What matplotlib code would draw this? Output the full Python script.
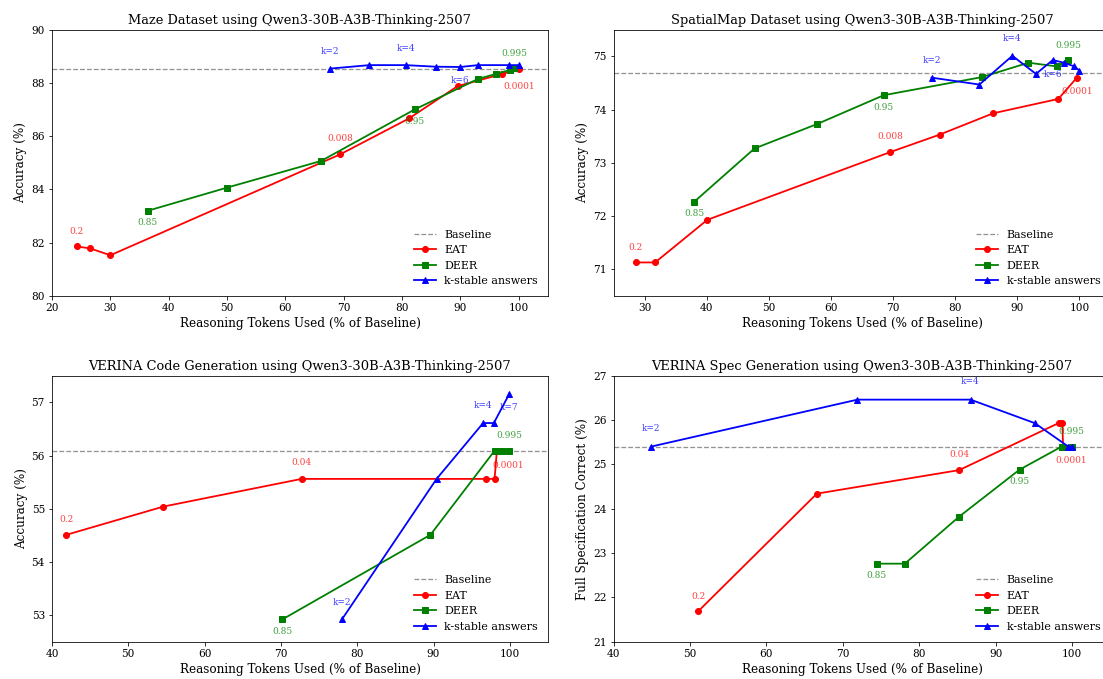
import matplotlib
matplotlib.use("Agg")
import matplotlib.pyplot as plt

plt.rcParams['font.family'] = ['DejaVu Serif']

# ---------------- data ----------------
maze_eat_x = [24.2, 26.5, 30.0, 69.4, 81.2, 89.5, 97.2, 100.0]
maze_eat_y = [81.86, 81.79, 81.53, 85.32, 86.67, 87.88, 88.34, 88.52]
maze_deer_x = [36.4, 50.0, 66.1, 82.2, 93.0, 96.1, 98.5, 99.2]
maze_deer_y = [83.20, 84.07, 85.07, 87.01, 88.15, 88.34, 88.49, 88.55]
maze_k_x = [67.7, 74.4, 80.6, 85.8, 90.0, 93.0, 98.3, 100.0]
maze_k_y = [88.54, 88.67, 88.67, 88.61, 88.60, 88.67, 88.67, 88.67]
maze_base = 88.53

spatial_eat_x = [28.6, 31.7, 40.1, 69.5, 77.5, 86.1, 96.6, 99.6]
spatial_eat_y = [71.13, 71.13, 71.93, 73.20, 73.53, 73.93, 74.20, 74.60]
spatial_deer_x = [38.0, 47.7, 57.8, 68.5, 84.3, 91.8, 96.4, 98.2]
spatial_deer_y = [72.27, 73.27, 73.73, 74.27, 74.61, 74.88, 74.81, 74.93]
spatial_k_x = [76.2, 83.9, 89.2, 93.0, 95.7, 97.5, 99.2, 100.0]
spatial_k_y = [74.60, 74.47, 75.01, 74.67, 74.93, 74.88, 74.81, 74.73]
spatial_base = 74.68

code_eat_x = [41.9, 54.6, 72.7, 96.9, 98.0, 98.3, 99.8]
code_eat_y = [54.51, 55.04, 55.56, 55.56, 55.56, 56.09, 56.09]
code_deer_x = [70.2, 89.6, 98.0, 99.0, 99.9]
code_deer_y = [52.92, 54.51, 56.09, 56.09, 56.09]
code_k_x = [78.0, 90.4, 96.5, 97.9, 99.9]
code_k_y = [52.92, 55.56, 56.61, 56.61, 57.15]
code_base = 56.09

spec_eat_x = [51.1, 66.6, 85.2, 98.2, 98.7, 98.8, 99.9]
spec_eat_y = [21.69, 24.34, 24.87, 25.93, 25.93, 25.40, 25.40]
spec_deer_x = [74.4, 78.1, 85.2, 93.1, 98.6, 99.9]
spec_deer_y = [22.76, 22.76, 23.82, 24.88, 25.40, 25.40]
spec_k_x = [44.9, 71.9, 86.7, 95.1, 99.5, 100.0]
spec_k_y = [25.40, 26.46, 26.46, 25.93, 25.40, 25.40]
spec_base = 25.40

titles = ["Maze Dataset using Qwen3-30B-A3B-Thinking-2507",
          "SpatialMap Dataset using Qwen3-30B-A3B-Thinking-2507",
          "VERINA Code Generation using Qwen3-30B-A3B-Thinking-2507",
          "VERINA Spec Generation using Qwen3-30B-A3B-Thinking-2507"]
ylabels = ["Accuracy (%)", "Accuracy (%)", "Accuracy (%)",
           "Full Specification Correct (%)"]
xlabel = "Reasoning Tokens Used (% of Baseline)"

# labels: (index, text, vertical offset in points)
maze_eat_labels = [(0, "0.2", 15), (3, "0.008", 16), (7, "0.0001", -17)]
maze_deer_labels = [(0, "0.85", -12), (3, "0.95", -12), (7, "0.995", 15)]
maze_k_labels = [(0, "k=2", 17), (2, "k=4", 17), (4, "k=6", -14)]

spatial_eat_labels = [(0, "0.2", 15), (3, "0.008", 16), (7, "0.0001", -14)]
spatial_deer_labels = [(0, "0.85", -12), (3, "0.95", -12), (7, "0.995", 15)]
spatial_k_labels = [(0, "k=2", 17), (2, "k=4", 17), (4, "k=6", -14)]

code_eat_labels = [(0, "0.2", 15), (2, "0.04", 16), (6, "0.0001", -15)]
code_deer_labels = [(0, "0.85", -12), (4, "0.995", 15)]
code_k_labels = [(0, "k=2", 17), (2, "k=4", 18), (4, "k=7", -13)]

spec_eat_labels = [(0, "0.2", 15), (2, "0.04", 16), (6, "0.0001", -14)]
spec_deer_labels = [(0, "0.85", -12), (3, "0.95", -12), (5, "0.995", 15)]
spec_k_labels = [(0, "k=2", 18), (2, "k=4", 18)]

panels = [
    dict(eat=(maze_eat_x, maze_eat_y), deer=(maze_deer_x, maze_deer_y),
         k=(maze_k_x, maze_k_y), base=maze_base,
         labs=(maze_eat_labels, maze_deer_labels, maze_k_labels),
         xlim=(20, 105), ylim=(80, 90), yticks=[80, 82, 84, 86, 88, 90]),
    dict(eat=(spatial_eat_x, spatial_eat_y), deer=(spatial_deer_x, spatial_deer_y),
         k=(spatial_k_x, spatial_k_y), base=spatial_base,
         labs=(spatial_eat_labels, spatial_deer_labels, spatial_k_labels),
         xlim=(25, 105), ylim=(70.5, 75.5), yticks=[71, 72, 73, 74, 75]),
    dict(eat=(code_eat_x, code_eat_y), deer=(code_deer_x, code_deer_y),
         k=(code_k_x, code_k_y), base=code_base,
         labs=(code_eat_labels, code_deer_labels, code_k_labels),
         xlim=(40, 105), ylim=(52.5, 57.5), yticks=[53, 54, 55, 56, 57]),
    dict(eat=(spec_eat_x, spec_eat_y), deer=(spec_deer_x, spec_deer_y),
         k=(spec_k_x, spec_k_y), base=spec_base,
         labs=(spec_eat_labels, spec_deer_labels, spec_k_labels),
         xlim=(40, 105), ylim=(21, 27), yticks=[21, 22, 23, 24, 25, 26, 27]),
]

W, H = 1103, 679
fig = plt.figure(figsize=(W / 72, H / 72), dpi=72)

# axes boxes in pixels: left, top, width, height
boxes = [(52, 29.7, 496, 266.3), (613.5, 29.7, 497, 266.3),
         (52, 375.7, 496, 266.0), (613.5, 375.7, 497, 266.0)]


def annotate(ax, xs, ys, labs, color):
    for i, txt, dy in labs:
        ax.annotate(txt, (xs[i], ys[i]), textcoords="offset points",
                    xytext=(0, dy), ha="center", va="center",
                    fontsize=9, color=color, alpha=0.75)


for p, box, title, ylab in zip(panels, boxes, titles, ylabels):
    l, t, w, h = box
    ax = fig.add_axes([l / W, 1 - (t + h) / H, w / W, h / H])
    ax.axhline(p["base"], color="gray", linestyle="--", linewidth=1.3,
               alpha=0.85, label="Baseline")
    ax.plot(*p["eat"], color="red", marker="o", markersize=6,
            linewidth=1.8, label="EAT")
    ax.plot(*p["deer"], color="green", marker="s", markersize=6,
            linewidth=1.8, label="DEER")
    ax.plot(*p["k"], color="blue", marker="^", markersize=6,
            linewidth=1.8, label="k-stable answers")
    annotate(ax, *p["eat"], p["labs"][0], "red")
    annotate(ax, *p["deer"], p["labs"][1], "green")
    annotate(ax, *p["k"], p["labs"][2], "blue")
    ax.set_xlim(*p["xlim"])
    ax.set_ylim(*p["ylim"])
    ax.set_yticks(p["yticks"])
    ax.tick_params(labelsize=10.5)
    ax.set_title(title, fontsize=13)
    ax.set_xlabel(xlabel, fontsize=12)
    ax.set_ylabel(ylab, fontsize=12)
    ax.legend(loc="lower right", frameon=False, fontsize=11)

fig.savefig("out.png", dpi=72)
